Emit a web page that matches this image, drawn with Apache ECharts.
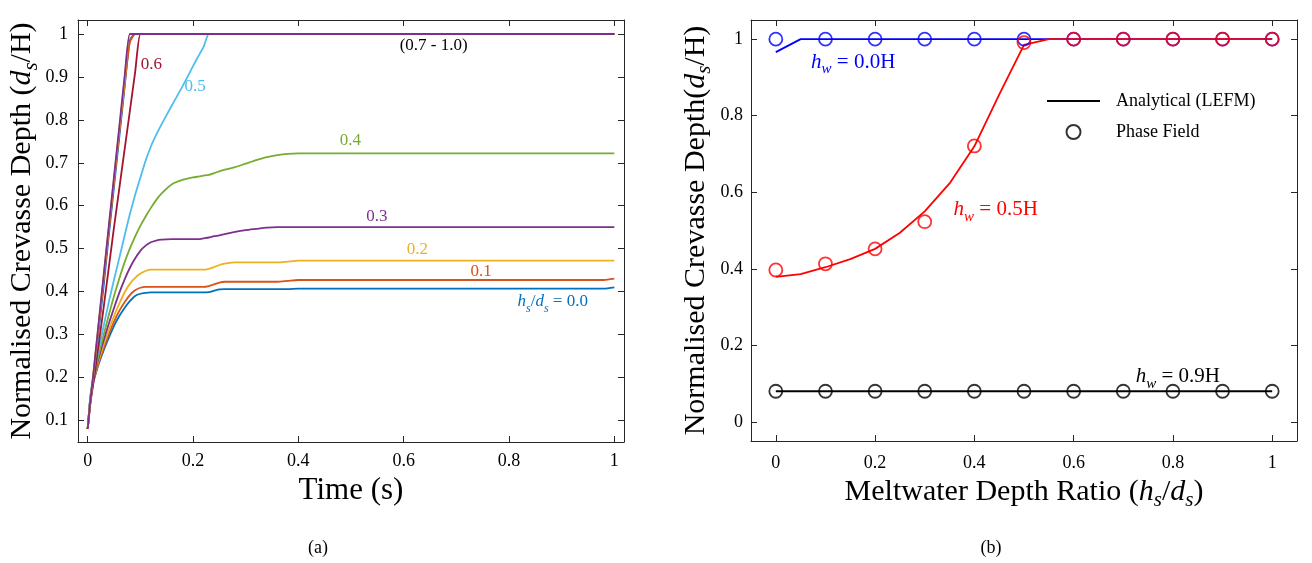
<!DOCTYPE html>
<html>
<head>
<meta charset="utf-8">
<script src="https://cdn.jsdelivr.net/npm/echarts@6/dist/echarts.min.js"></script>
<style>html,body{margin:0;padding:0;background:#fff}#c{width:1312px;height:563px}</style>
</head>
<body>
<div id="c"></div>
<script>
// ---------- Panel (a): crevasse depth vs time ----------
const time = [0, 0.005, 0.01, 0.02, 0.03, 0.04, 0.05, 0.06, 0.07, 0.08, 0.09, 0.1, 0.11, 0.12, 0.13, 0.14, 0.16, 0.18, 0.2, 0.21, 0.22, 0.23, 0.24, 0.25, 0.26, 0.28, 0.3, 0.32, 0.34, 0.36, 0.38, 0.4, 0.5, 0.6, 0.7, 0.8, 0.9, 0.98, 1.0];
const depth_00 = [0.08,0.15,0.185,0.228,0.262,0.292,0.32,0.343,0.362,0.378,0.39,0.395,0.397,0.398,0.398,0.398,0.398,0.398,0.398,0.398,0.398,0.399,0.402,0.405,0.406,0.406,0.406,0.406,0.406,0.406,0.406,0.407,0.407,0.407,0.407,0.407,0.407,0.407,0.41];
const depth_01 = [0.08,0.15,0.186,0.231,0.267,0.3,0.33,0.355,0.375,0.392,0.403,0.409,0.411,0.411,0.411,0.411,0.411,0.411,0.411,0.411,0.411,0.413,0.417,0.421,0.423,0.423,0.423,0.423,0.423,0.423,0.425,0.427,0.427,0.427,0.427,0.427,0.427,0.427,0.43];
const depth_02 = [0.08,0.15,0.188,0.236,0.275,0.31,0.343,0.372,0.398,0.418,0.432,0.442,0.448,0.451,0.451,0.451,0.451,0.451,0.451,0.451,0.451,0.453,0.457,0.462,0.465,0.468,0.468,0.468,0.468,0.468,0.47,0.472,0.472,0.472,0.472,0.472,0.472,0.472,0.472];
const depth_03 = [0.08,0.152,0.19,0.242,0.285,0.325,0.362,0.397,0.428,0.455,0.477,0.495,0.507,0.515,0.519,0.521,0.522,0.522,0.522,0.522,0.524,0.526,0.529,0.531,0.534,0.539,0.543,0.546,0.549,0.55,0.55,0.55,0.55,0.55,0.55,0.55,0.55,0.55,0.55];
const depth_04 = [0.08,0.153,0.192,0.248,0.298,0.345,0.39,0.43,0.468,0.5,0.528,0.553,0.575,0.595,0.613,0.628,0.65,0.66,0.666,0.668,0.67,0.672,0.676,0.68,0.684,0.69,0.698,0.706,0.713,0.718,0.721,0.722,0.722,0.722,0.722,0.722,0.722,0.722,0.722];
const depth_05 = [0.08,0.155,0.196,0.26,0.318,0.375,0.428,0.478,0.53,0.58,0.625,0.665,0.705,0.738,0.765,0.789,0.834,0.878,0.925,0.948,0.97,1,1,1,1,1,1,1,1,1,1,1,1,1,1,1,1,1,1];
const depth_06 = [0.08,0.14,0.18,0.27,0.36,0.455,0.55,0.64,0.73,0.82,0.91,1,1,1,1,1,1,1,1,1,1,1,1,1,1,1,1,1,1,1,1,1,1,1,1,1,1,1,1];
const depth_07 = [0.08,0.14,0.19,0.3,0.41,0.53,0.645,0.76,0.875,0.985,1,1,1,1,1,1,1,1,1,1,1,1,1,1,1,1,1,1,1,1,1,1,1,1,1,1,1,1,1];
const depth_08 = [0.08,0.14,0.195,0.31,0.425,0.54,0.655,0.77,0.88,0.98,1,1,1,1,1,1,1,1,1,1,1,1,1,1,1,1,1,1,1,1,1,1,1,1,1,1,1,1,1];
const depth_09 = [0.08,0.145,0.2,0.315,0.43,0.548,0.663,0.778,0.89,1,1,1,1,1,1,1,1,1,1,1,1,1,1,1,1,1,1,1,1,1,1,1,1,1,1,1,1,1,1];
const depth_10 = [0.08,0.145,0.2,0.318,0.435,0.552,0.668,0.784,0.9,1,1,1,1,1,1,1,1,1,1,1,1,1,1,1,1,1,1,1,1,1,1,1,1,1,1,1,1,1,1];
const ratioNames = ['0.0','0.1','0.2','0.3','0.4','0.5','0.6','0.7','0.8','0.9','1.0'];
const ticksA_x = [0, 0.2, 0.4, 0.6, 0.8, 1];
const ticksA_y = [0.1, 0.2, 0.3, 0.4, 0.5, 0.6, 0.7, 0.8, 0.9, 1];

// ---------- Panel (b): crevasse depth vs meltwater depth ratio ----------
const ratioFine = [0,0.05,0.1,0.15,0.2,0.25,0.3,0.35,0.4,0.45,0.5,0.55,0.6,0.65,0.7,0.75,0.8,0.85,0.9,0.95,1];
const lefm_hw00 = [0.966,1,1,1,1,1,1,1,1,1,1,1,1,1,1,1,1,1,1,1,1];
const lefm_hw05 = [0.379,0.386,0.404,0.425,0.452,0.494,0.55,0.623,0.72,0.855,0.985,1,1,1,1,1,1,1,1,1,1];
const lefm_hw09 = [0.08,0.08,0.08,0.08,0.08,0.08,0.08,0.08,0.08,0.08,0.08,0.08,0.08,0.08,0.08,0.08,0.08,0.08,0.08,0.08,0.08];
const ratio = [0,0.1,0.2,0.3,0.4,0.5,0.6,0.7,0.8,0.9,1];
const pf_hw00 = [1,1,1,1,1,1,1,1,1,1,1];
const pf_hw05 = [0.397,0.413,0.452,0.523,0.721,0.991,1,1,1,1,1];
const pf_hw09 = [0.08,0.08,0.08,0.08,0.08,0.08,0.08,0.08,0.08,0.08,0.08];
const ticksB = [0, 0.2, 0.4, 0.6, 0.8, 1];

const FONT = 'Liberation Serif';
const AX = '#262626';
const fmt = v => String(Math.round(v * 10) / 10);
const pairs = (xs, ys) => xs.map((x, i) => [x, ys[i]]);

const colorsA = ['#0072BD','#D95319','#EDB120','#7E2F8E','#77AC30','#4DBEEE','#A2142F','#0072BD','#D95319','#EDB120','#7E2F8E'];
const depthsA = [depth_00, depth_01, depth_02, depth_03, depth_04, depth_05, depth_06, depth_07, depth_08, depth_09, depth_10];

const richBase = (size) => ({
  n: {fontFamily: FONT, fontSize: size, lineHeight: size + 8},
  i: {fontFamily: FONT, fontSize: size, fontStyle: 'italic', lineHeight: size + 8},
  s: {fontFamily: FONT, fontSize: Math.round(size * 0.7), fontStyle: 'italic', verticalAlign: 'bottom', lineHeight: Math.round(size * 0.7) + 2}
});

function lbl(coord, text, color, size) {
  return {
    coord: coord, symbol: 'circle', symbolSize: 1,
    itemStyle: {color: 'rgba(0,0,0,0)'},
    label: {show: true, position: 'inside', formatter: text, color: color,
      fontFamily: FONT, fontSize: size, rich: richBase(size)}
  };
}

// labels of panel (a), anchored in data coordinates
const labelsA = {
  0: [[0.883, 0.376], '{i|h}{s|s}{n|/}{i|d}{s|s}{n| = 0.0}'],
  1: [[0.747, 0.446], '{n|0.1}'],
  2: [[0.626, 0.497], '{n|0.2}'],
  3: [[0.549, 0.576], '{n|0.3}'],
  4: [[0.499, 0.751], '{n|0.4}'],
  5: [[0.204, 0.877], '{n|0.5}'],
  6: [[0.121, 0.930], '{n|0.6}']
};

const series = [];
depthsA.forEach((d, k) => {
  const s = {
    type: 'line', xAxisIndex: 0, yAxisIndex: 0, name: 'a' + ratioNames[k],
    data: pairs(time, d), showSymbol: false, symbol: 'none', smooth: 0.2,
    lineStyle: {color: colorsA[k], width: 1.8}, itemStyle: {color: colorsA[k]},
    silent: true, z: 2 + k
  };
  const marks = [];
  if (labelsA[k]) marks.push(lbl(labelsA[k][0], labelsA[k][1], colorsA[k], 17));
  if (k === 10) marks.push(lbl([0.657, 0.974], '{n|(0.7 - 1.0)}', '#000', 17));
  if (marks.length) s.markPoint = {data: marks, silent: true, animation: false};
  series.push(s);
});

// panel (b)
const colB = ['#0000FF', '#FF0000', '#000000'];
const lefmB = [lefm_hw00, lefm_hw05, lefm_hw09];
const pfB = [pf_hw00, pf_hw05, pf_hw09];
const labelsB = [
  [[0.156, 0.939], '{i|h}{s|w}{n| = 0.0H}'],
  [[0.443, 0.554], '{i|h}{s|w}{n| = 0.5H}'],
  [[0.81, 0.118], '{i|h}{s|w}{n| = 0.9H}']
];
lefmB.forEach((d, k) => {
  series.push({
    type: 'line', xAxisIndex: 2, yAxisIndex: 2, name: 'lefm' + k,
    data: pairs(ratioFine, d), showSymbol: false, symbol: 'none',
    lineStyle: {color: colB[k], width: 1.8}, itemStyle: {color: colB[k]}, silent: true, z: 3,
    markPoint: {data: [lbl(labelsB[k][0], labelsB[k][1], colB[k], 21)], silent: true, animation: false}
  });
});
pfB.forEach((d, k) => {
  series.push({
    type: 'scatter', xAxisIndex: 2, yAxisIndex: 2, name: 'pf' + k,
    data: pairs(ratio, d), symbol: 'circle', symbolSize: 13,
    itemStyle: {color: 'rgba(255,255,255,0)', borderColor: colB[k], borderWidth: 1.8}, silent: true, z: 5
  });
});
// legend entries
series.push({type: 'line', xAxisIndex: 2, yAxisIndex: 2, name: 'Analytical (LEFM)', data: [], symbol: 'none',
  lineStyle: {color: '#000', width: 1.8}, itemStyle: {color: '#000'}});
series.push({type: 'scatter', xAxisIndex: 2, yAxisIndex: 2, name: 'Phase Field', data: [], symbol: 'circle', symbolSize: 13,
  itemStyle: {color: 'rgba(255,255,255,0)', borderColor: '#000', borderWidth: 1.8}});

function xAx(grid, min, max, ticks, name, nameSize, nameGap, labelMargin, top) {
  return {
    gridIndex: grid, type: 'value', min: min, max: max, position: top ? 'top' : 'bottom',
    axisLine: {show: true, onZero: false, lineStyle: {color: AX, width: 1}},
    axisTick: {show: true, inside: true, length: 6, customValues: ticks, lineStyle: {color: AX}},
    axisLabel: {show: !top, customValues: ticks, formatter: fmt, color: '#000', fontFamily: FONT, fontSize: 18, margin: labelMargin},
    splitLine: {show: false},
    name: top ? '' : name, nameLocation: 'middle', nameGap: nameGap,
    nameTextStyle: {color: '#000', fontFamily: FONT, fontSize: nameSize, rich: richBase(nameSize)}
  };
}
function yAx(grid, min, max, ticks, name, nameSize, nameGap, labelMargin, right) {
  return {
    gridIndex: grid, type: 'value', min: min, max: max, position: right ? 'right' : 'left',
    axisLine: {show: true, onZero: false, lineStyle: {color: AX, width: 1}},
    axisTick: {show: true, inside: true, length: 6, customValues: ticks, lineStyle: {color: AX}},
    axisLabel: {show: !right, customValues: ticks, formatter: fmt, color: '#000', fontFamily: FONT, fontSize: 18, margin: labelMargin},
    splitLine: {show: false},
    name: right ? '' : name, nameLocation: 'middle', nameGap: nameGap,
    nameTextStyle: {color: '#000', fontFamily: FONT, fontSize: nameSize, rich: richBase(nameSize)}
  };
}

const option = {
  animation: false,
  backgroundColor: '#fff',
  grid: [
    {left: 78, top: 20, width: 546, height: 422},
    {left: 751, top: 20, width: 546, height: 421}
  ],
  xAxis: [
    xAx(0, -0.0184, 1.0184, ticksA_x, '{n|Time (s)}', 31, 28, 10, false),
    xAx(0, -0.0184, 1.0184, ticksA_x, '', 31, 28, 10, true),
    xAx(1, -0.05, 1.05, ticksB, '{n|Meltwater Depth Ratio (}{i|h}{s|s}{n|/}{i|d}{s|s}{n|)}', 30, 32, 13, false),
    xAx(1, -0.05, 1.05, ticksB, '', 30, 32, 13, true)
  ],
  yAxis: [
    yAx(0, 0.0497, 1.0326, ticksA_y, '{n|Normalised Crevasse Depth (}{i|d}{s|s}{n|/H)}', 30, 36, 10, false),
    yAx(0, 0.0497, 1.0326, ticksA_y, '', 30, 36, 10, true),
    yAx(1, -0.05, 1.05, ticksB, '{n|Normalised Crevasse Depth(}{i|d}{s|s}{n|/H)}', 30, 36, 8, false),
    yAx(1, -0.05, 1.05, ticksB, '', 30, 36, 8, true)
  ],
  legend: {
    data: [{name: 'Analytical (LEFM)', icon: 'path://M0,0H53V2H0Z'}, {name: 'Phase Field', icon: 'circle'}],
    orient: 'vertical', left: 1042, top: 87, itemWidth: 53, itemHeight: 14, itemGap: 13,
    selectedMode: false,
    textStyle: {color: '#000', fontFamily: FONT, fontSize: 18, padding: [0, 0, 0, 11]}
  },
  graphic: [
    {type: 'text', x: 318, y: 548, style: {text: '(a)', fontFamily: FONT, fontSize: 18, fill: '#000', textAlign: 'center', textVerticalAlign: 'middle'}},
    {type: 'text', x: 991, y: 548, style: {text: '(b)', fontFamily: FONT, fontSize: 18, fill: '#000', textAlign: 'center', textVerticalAlign: 'middle'}}
  ],
  series: series
};

const chart = echarts.init(document.getElementById('c'), null, {renderer: 'canvas'});
chart.setOption(option);
</script>
</body>
</html>
